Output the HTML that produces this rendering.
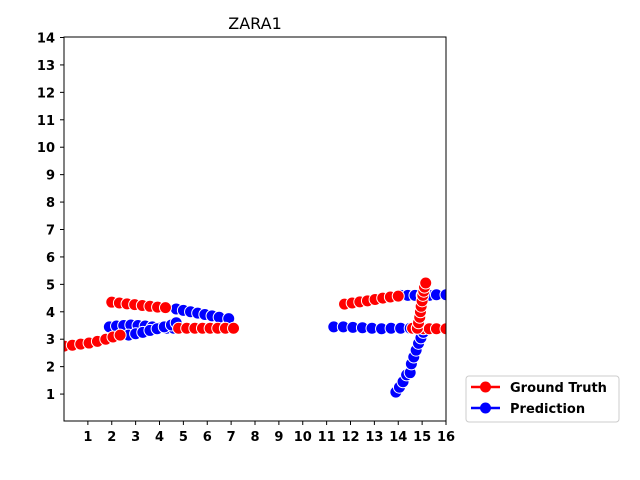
<!DOCTYPE html>
<html><head><meta charset="utf-8">
<style>
body{margin:0;background:#fff;}
svg{display:block;font-family:"DejaVu Sans","Liberation Sans",sans-serif;}
</style></head>
<body>
<svg id="chart" width="640" height="480" viewBox="0 0 640 480">
<text x="255" y="29" text-anchor="middle" font-size="16">ZARA1</text>
<g id="marks" clip-path="url(#clip)"></g>
<clipPath id="clip"><rect x="64" y="37" width="382" height="384"/></clipPath>
<rect x="64" y="37" width="382" height="384" fill="none" stroke="#000" stroke-width="1"/>
<g id="axes"></g>
<g>
<rect x="466" y="376" width="153" height="46" rx="3" fill="#fff" stroke="#ccc"/>
<line x1="471" y1="387" x2="500" y2="387" stroke="red" stroke-width="2.5"/>
<circle cx="485.5" cy="387" r="5.5" fill="red"/>
<text x="510" y="392" font-size="13" font-weight="bold">Ground Truth</text>
<line x1="471" y1="408" x2="500" y2="408" stroke="blue" stroke-width="2.5"/>
<circle cx="485.5" cy="408" r="5.5" fill="blue"/>
<text x="510" y="413" font-size="13" font-weight="bold">Prediction</text>
</g>
</svg>
<script>
const xTicks=[1,2,3,4,5,6,7,8,9,10,11,12,13,14,15,16];
const yTicks=[1,2,3,4,5,6,7,8,9,10,11,12,13,14];
const gtX=[
 [0,0.35,0.7,1.05,1.4,1.75,2.05,2.35],
 [2.0,2.32,2.64,2.96,3.28,3.6,3.92,4.25],
 [4.8,5.14,5.48,5.8,6.12,6.44,6.76,7.1],
 [11.75,12.07,12.39,12.71,13.03,13.35,13.67,14.0],
 [14.6,14.8,15.05,15.3,15.6,16.0],
 [14.8,14.85,14.9,14.93,14.96,15.0,15.03,15.07,15.1,15.15]
];
const gtY=[
 [2.75,2.78,2.82,2.86,2.92,3.0,3.08,3.15],
 [4.35,4.32,4.29,4.26,4.23,4.2,4.17,4.15],
 [3.4,3.4,3.4,3.4,3.4,3.4,3.4,3.4],
 [4.28,4.32,4.36,4.4,4.45,4.5,4.54,4.57],
 [3.4,3.4,3.38,3.38,3.38,3.38],
 [3.4,3.6,3.8,4.0,4.2,4.4,4.6,4.75,4.9,5.05]
];
const prX=[
 [1.9,2.2,2.5,2.8,3.1,3.4,3.7,4.0,4.3,4.6],
 [2.7,3.0,3.3,3.6,3.9,4.2,4.5,4.7],
 [4.7,5.0,5.3,5.6,5.9,6.2,6.5,6.9],
 [11.3,11.7,12.1,12.5,12.9,13.3,13.7,14.1,14.5],
 [14.1,14.4,14.7,15.0,15.3,15.6,16.0],
 [13.9,14.05,14.2,14.35,14.5,14.55,14.65,14.75,14.85,14.95,15.05,15.1]
];
const prY=[
 [3.45,3.48,3.5,3.52,3.5,3.48,3.45,3.42,3.4,3.4],
 [3.15,3.2,3.25,3.32,3.38,3.45,3.52,3.6],
 [4.1,4.05,4.0,3.95,3.9,3.85,3.8,3.75],
 [3.45,3.45,3.43,3.42,3.4,3.38,3.4,3.4,3.4],
 [4.6,4.6,4.6,4.6,4.6,4.62,4.62],
 [1.07,1.25,1.45,1.7,1.78,2.1,2.35,2.6,2.85,3.05,3.25,3.4]
];
const NS="http://www.w3.org/2000/svg";
const X=v=>64+v*(382/16);
const Y=v=>421.5-v*(384/14);
const marks=document.getElementById('marks');
const axes=document.getElementById('axes');
function mk(t,a,p){const e=document.createElementNS(NS,t);for(const k in a)e.setAttribute(k,a[k]);p.appendChild(e);return e;}
function drawSeries(xs,ys,color,name){
 xs.forEach((tx,i)=>{
  const ty=ys[i];
  const pl=mk('polyline',{points:tx.map((v,j)=>X(v)+','+Y(ty[j])).join(' '),fill:'none',stroke:color,'stroke-width':2},marks);
  
  
  tx.forEach((v,j)=>{
   const c=mk('circle',{cx:X(v),cy:Y(ty[j]),r:6,fill:color,stroke:'#fff','stroke-width':1},marks);
   
   
  });
 });
}
drawSeries(prX,prY,'blue','prediction');
drawSeries(gtX,gtY,'red','ground-truth');
xTicks.forEach(t=>{
 mk('line',{x1:X(t),x2:X(t),y1:421,y2:425,stroke:'#000'},axes);
 const tx=mk('text',{x:X(t),y:441,'text-anchor':'middle','font-size':13,'font-weight':'bold'},axes);
 tx.textContent=t;
 
 
});
yTicks.forEach(t=>{
 mk('line',{x1:60,x2:64,y1:Y(t),y2:Y(t),stroke:'#000'},axes);
 const tx=mk('text',{x:55,y:Y(t)+5,'text-anchor':'end','font-size':13,'font-weight':'bold'},axes);
 tx.textContent=t;
 
 
});
</script>
</body></html>
